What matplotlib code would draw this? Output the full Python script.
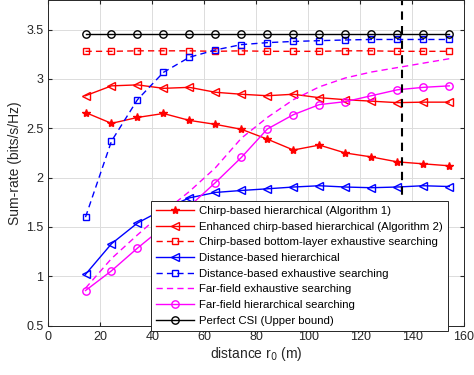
import numpy as np
import matplotlib
matplotlib.use('Agg')
from matplotlib import pyplot as plt

plt.rcParams['font.family'] = ['Liberation Sans', 'DejaVu Sans']

# distance r0 (m)
dist = [14.3, 24.3, 34.3, 44.3, 54.3, 64.3, 74.3, 84.3, 94.3, 104.3, 114.3, 124.3, 134.3, 144.3, 154.3]

chirp_hier = [2.66, 2.55, 2.61, 2.65, 2.58, 2.54, 2.49, 2.39, 2.28, 2.33, 2.25, 2.21, 2.16, 2.14, 2.12]
enh_chirp_hier = [2.83, 2.93, 2.94, 2.905, 2.915, 2.865, 2.845, 2.83, 2.845, 2.81, 2.79, 2.775, 2.76, 2.765, 2.765]
chirp_exh = [3.28, 3.28, 3.285, 3.285, 3.285, 3.28, 3.285, 3.28, 3.28, 3.28, 3.285, 3.285, 3.28, 3.28, 3.28]
dist_hier = [1.02, 1.33, 1.54, 1.68, 1.795, 1.85, 1.87, 1.887, 1.905, 1.918, 1.905, 1.898, 1.905, 1.918, 1.91]
dist_exh = [1.60, 2.37, 2.79, 3.067, 3.22, 3.294, 3.348, 3.368, 3.38, 3.388, 3.395, 3.40, 3.40, 3.40, 3.40]
far_exh = [0.88, 1.18, 1.42, 1.65, 1.86, 2.10, 2.40, 2.61, 2.79, 2.92, 3.01, 3.07, 3.115, 3.16, 3.205]
far_hier = [0.856, 1.056, 1.286, 1.50, 1.71, 1.95, 2.205, 2.493, 2.638, 2.74, 2.77, 2.83, 2.89, 2.915, 2.93]
perfect = [3.46] * 15

threshold = 136  # vertical dashed line

labels = ['Chirp-based hierarchical (Algorithm 1)',
          'Enhanced chirp-based hierarchical (Algorithm 2)',
          'Chirp-based bottom-layer exhaustive searching',
          'Distance-based hierarchical',
          'Distance-based exhaustive searching',
          'Far-field exhaustive searching',
          'Far-field hierarchical searching',
          'Perfect CSI (Upper bound)']

mag = '#ff00ff'
dash = (0, (4.5, 3))
fig = plt.figure(figsize=(4.74, 3.75), dpi=100)
ax = fig.add_axes([0.102, 0.1315, 0.877, 0.8685])

ms = 5.3
ax.plot(dist, chirp_hier, color='r', marker='*', ms=6, lw=1, label=labels[0])
ax.plot(dist, enh_chirp_hier, color='r', marker='<', ms=ms, mfc='none', lw=1, label=labels[1])
ax.plot(dist, chirp_exh, color='r', ls=dash, marker='s', ms=4.5, mfc='none', lw=1, label=labels[2])
ax.plot(dist, dist_hier, color='b', marker='<', ms=ms, mfc='none', lw=1, label=labels[3])
ax.plot(dist, dist_exh, color='b', ls=dash, marker='s', ms=4.5, mfc='none', lw=1, label=labels[4])
ax.plot(dist, far_exh, color=mag, ls=dash, lw=1, label=labels[5])
ax.plot(dist, far_hier, color=mag, marker='o', ms=ms, mfc='none', lw=1, label=labels[6])
ax.plot(dist, perfect, color='k', marker='o', ms=ms, mfc='none', lw=1, label=labels[7])
ax.axvline(threshold, color='k', ls=(0, (4, 3)), lw=1.5)

ax.set_xlim(0, 160)
ax.set_ylim(0.5, 3.8)
ax.set_xticks(np.arange(0, 161, 20))
ax.set_yticks([0.5, 1, 1.5, 2, 2.5, 3, 3.5])
ax.set_yticklabels(['0.5', '1', '1.5', '2', '2.5', '3', '3.5'])
ax.grid(True, color='#dcdcdc', lw=0.7)
ax.set_axisbelow(True)
ax.tick_params(direction='in', length=3, top=True, right=True, labelsize=9, colors='#262626', labelcolor='#262626')
for s in ax.spines.values():
    s.set_color('#262626')
    s.set_linewidth(0.7)
ax.set_xlabel('distance r$_0$ (m)', fontsize=10, color='#262626', labelpad=2)
ax.set_ylabel('Sum-rate (bits/s/Hz)', fontsize=10, color='#262626', labelpad=3)

leg = ax.legend(loc='upper left', bbox_to_anchor=(151 / 474, 1 - 200.7 / 375),
                bbox_transform=fig.transFigure, fontsize=8.2, handlelength=3.3,
                labelspacing=0.5, borderpad=0.45, handletextpad=0.45,
                fancybox=False, framealpha=1, edgecolor='#262626', borderaxespad=0)
leg.get_frame().set_linewidth(0.7)
leg.set_zorder(5)

fig.savefig('out.png', dpi=100)
